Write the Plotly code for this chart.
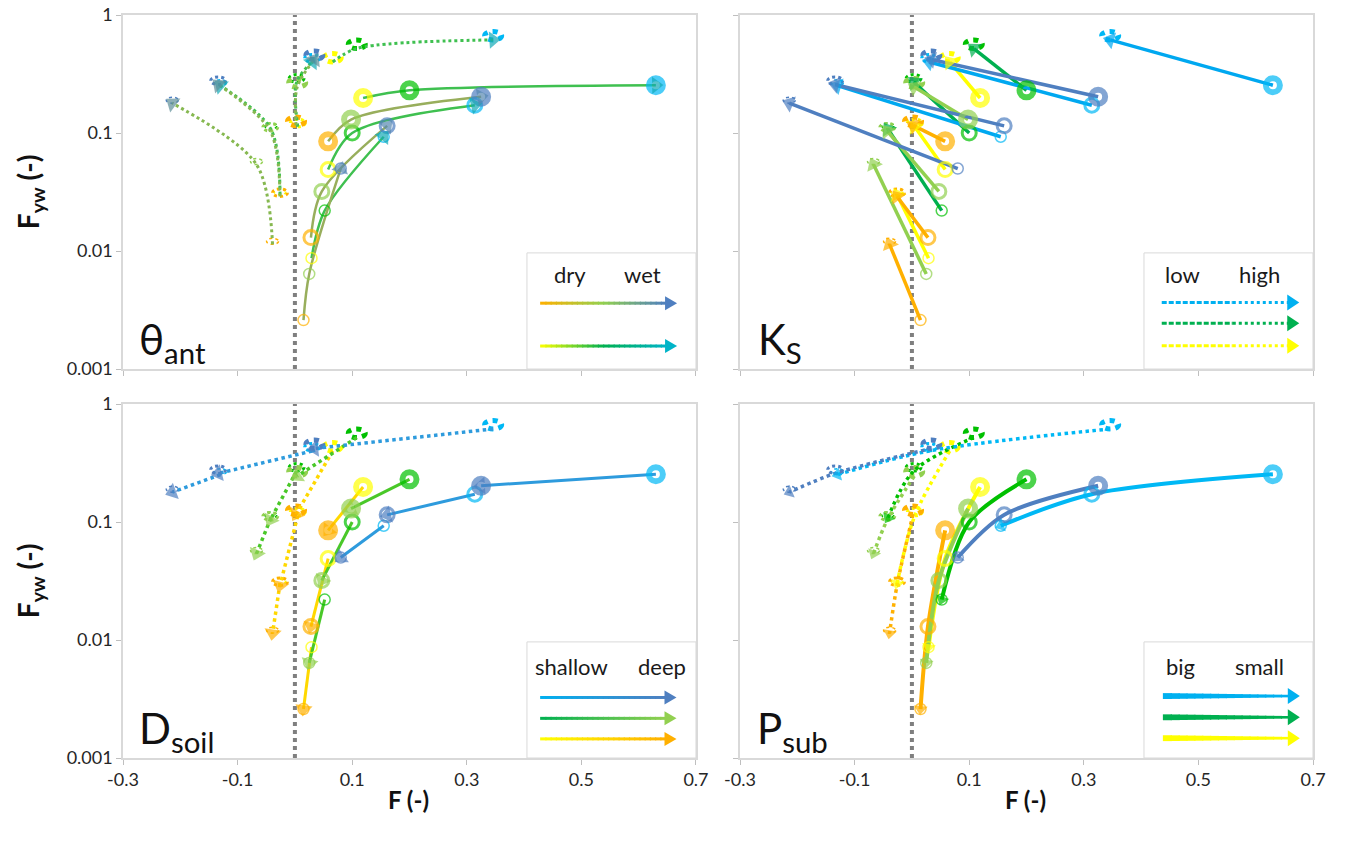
import plotly.graph_objects as go
from plotly.subplots import make_subplots

# ---------------- data ----------------
# rows: theta_ant dry, mid, wet ; columns: P_sub big, medium, small
F_lowKs_shallow    = [[0.119, 0.058, 0.029], [0.200, 0.100, 0.052], [0.630, 0.314, 0.155]]
Fyw_lowKs_shallow  = [[0.198, 0.049, 0.0087], [0.230, 0.100, 0.022], [0.254, 0.172, 0.093]]
F_lowKs_deep       = [[0.058, 0.028, 0.015], [0.098, 0.047, 0.025], [0.325, 0.161, 0.080]]
Fyw_lowKs_deep     = [[0.085, 0.013, 0.0026], [0.130, 0.032, 0.0064], [0.203, 0.115, 0.050]]
F_highKs_shallow   = [[0.066, 0.005, -0.026], [0.108, 0.003, -0.042], [0.346, 0.030, -0.130]]
Fyw_highKs_shallow = [[0.40, 0.113, 0.030], [0.52, 0.27, 0.108], [0.615, 0.40, 0.252]]
F_highKs_deep      = [[0.002, -0.026, -0.039], [0.004, -0.043, -0.067], [0.034, -0.134, -0.214]]
Fyw_highKs_deep    = [[0.116, 0.029, 0.0114], [0.245, 0.104, 0.054], [0.42, 0.258, 0.179]]

theta_levels = ["dry", "mid", "wet"]
dsoil_levels = ["shallow", "deep"]
psub_levels = ["big", "medium", "small"]
ks_levels = ["low", "high"]

x_tickvals = [-0.3, -0.1, 0.1, 0.3, 0.5, 0.7]
x_ticktext = ["-0.3", "-0.1", "0.1", "0.3", "0.5", "0.7"]
y_tickvals = [0.001, 0.01, 0.1, 1]
y_ticktext = ["0.001", "0.01", "0.1", "1"]

F_tab = {("low", "shallow"): F_lowKs_shallow, ("low", "deep"): F_lowKs_deep,
         ("high", "shallow"): F_highKs_shallow, ("high", "deep"): F_highKs_deep}
FYW_tab = {("low", "shallow"): Fyw_lowKs_shallow, ("low", "deep"): Fyw_lowKs_deep,
           ("high", "shallow"): Fyw_highKs_shallow, ("high", "deep"): Fyw_highKs_deep}


def pt(ks, d, t, p):
    return F_tab[(ks, d)][t][p], FYW_tab[(ks, d)][t][p]


# ---------------- styles ----------------
COL = {("shallow", 0): "#FFFF00", ("shallow", 1): "#00C000", ("shallow", 2): "#00B8F5",
       ("deep", 0): "#FFB000", ("deep", 1): "#92D050", ("deep", 2): "#4F7FC0"}
TEAL = "#12A9B6"
MSIZE = [14, 14, 11]
MLW = [6, 3, 1.5]
DOT_R = [8.5, 7.5, 6]
DOT_W = [5, 3, 1.5]
FONT = "Lato"


def blend(c1, c2, t=0.5):
    a = [int(c1[i:i + 2], 16) for i in (1, 3, 5)]
    b = [int(c2[i:i + 2], 16) for i in (1, 3, 5)]
    return "#%02x%02x%02x" % tuple(round(a[k] + (b[k] - a[k]) * t) for k in range(3))


def blend_stops(stops, t):
    n = len(stops) - 1
    i = min(int(t * n), n - 1)
    return blend(stops[i], stops[i + 1], t * n - i)


fig = make_subplots(rows=2, cols=2)
XD = [[0, 0.4815], [0.5185, 1]]
YD = [[0.5235, 1], [0, 0.4764]]
AX = {(1, 1): ("x", "y"), (1, 2): ("x2", "y2"), (2, 1): ("x3", "y3"), (2, 2): ("x4", "y4")}

heads = []


def add_line(rc, xs, ys, color, dash, width, head_color, head_size):
    r, c = rc
    fig.add_trace(go.Scatter(x=xs, y=ys, mode="lines",
                             line=dict(color=color, width=width, dash=dash,
                                       shape="spline" if len(xs) > 2 else "linear", smoothing=0.9),
                             hoverinfo="skip", showlegend=False), row=r, col=c)
    heads.append((r, c, xs[-2:], ys[-2:], head_color, head_size))


# --- theta_ant panel: dry -> mid -> wet
for ks in ks_levels:
    for d in dsoil_levels:
        for p in range(3):
            xs, ys = [], []
            for t in range(3):
                x, y = pt(ks, d, t, p)
                xs.append(x); ys.append(y)
            if d == "shallow":
                lc = "#3FC050"
                hc = TEAL
            else:
                lc = "#98AE5C" if ks == "low" else "#86B850"
                hc = "#5588B0" if ks == "low" else "#5E8E98"
            add_line((1, 1), xs, ys, lc, "solid" if ks == "low" else "dot",
                     2.5 if ks == "low" else 3, hc, 15)

# --- Ks panel: low -> high
for d in dsoil_levels:
    for t in range(3):
        for p in range(3):
            x0, y0 = pt("low", d, t, p)
            x1, y1 = pt("high", d, t, p)
            c = COL[(d, t)]
            if c == "#00C000":
                c = "#00B050"
            if c == "#00B8F5":
                c = "#00A8F0"
            add_line((1, 2), [x0, x1], [y0, y1], c, "solid", 3.5, c, 15)

# --- Dsoil panel: shallow -> deep
for ks in ks_levels:
    for t in range(3):
        for p in range(3):
            x0, y0 = pt(ks, "shallow", t, p)
            x1, y1 = pt(ks, "deep", t, p)
            c = blend(COL[("shallow", t)], COL[("deep", t)], 0.5)
            if t == 2:
                c = "#2E9BDD"
            add_line((2, 1), [x0, x1], [y0, y1], c, "solid" if ks == "low" else "dot",
                     3 if ks == "low" else 3.5, COL[("deep", t)], 15)

# --- Psub panel: big -> medium -> small
for ks in ks_levels:
    for d in dsoil_levels:
        for t in range(3):
            xs, ys = [], []
            for p in range(3):
                x, y = pt(ks, d, t, p)
                xs.append(x); ys.append(y)
            c = COL[(d, t)]
            add_line((2, 2), xs, ys, c, "solid" if ks == "low" else "dot",
                     4 if ks == "low" else 3.5, c, 12)

# --- circles (low Ks, solid open circles) in every panel
for rc in AX:
    xs, ys, cs, ss, ws = [], [], [], [], []
    for d in dsoil_levels:
        for t in range(3):
            for p in range(3):
                x, y = pt("low", d, t, p)
                xs.append(x); ys.append(y)
                cs.append(COL[(d, t)]); ss.append(MSIZE[p]); ws.append(MLW[p])
    fig.add_trace(go.Scatter(x=xs, y=ys, mode="markers",
                             marker=dict(symbol="circle-open", size=ss, color=cs, line=dict(width=ws)),
                             hoverinfo="skip", showlegend=False), row=rc[0], col=rc[1])

# --- arrow heads
for r, c, xs, ys, col, sz in heads:
    fig.add_trace(go.Scatter(x=xs, y=ys, mode="markers",
                             marker=dict(symbol="triangle-up", size=[0, sz], color=col,
                                         angleref="previous", line=dict(width=0)),
                             hoverinfo="skip", showlegend=False), row=r, col=c)

# --- dotted circles (high Ks) + vertical dotted line at F = 0
for rc, (xa, ya) in AX.items():
    for d in dsoil_levels:
        for t in range(3):
            for p in range(3):
                x, y = pt("high", d, t, p)
                r_ = DOT_R[p]
                fig.add_shape(type="circle", xref=xa, yref=ya, xsizemode="pixel", ysizemode="pixel",
                              xanchor=x, yanchor=y, x0=-r_, x1=r_, y0=-r_, y1=r_,
                              line=dict(color=COL[(d, t)], width=DOT_W[p], dash="dot"), layer="below")
    fig.add_shape(type="line", xref=xa, yref=ya + " domain", x0=0, x1=0, y0=0, y1=1,
                  line=dict(color="#7F7F7F", width=4, dash="dot"), layer="below")

# ---------------- axes ----------------
for (r, c), (xa, ya) in AX.items():
    fig.update_xaxes(row=r, col=c, domain=XD[c - 1], range=[-0.3, 0.7], tickvals=x_tickvals,
                     ticktext=x_ticktext, showticklabels=(r == 2), ticks="outside", ticklen=5,
                     tickcolor="#BFBFBF", showline=True, linecolor="#D9D9D9", linewidth=1.5,
                     mirror=True, showgrid=False, zeroline=False, automargin=False,
                     ticklabeloverflow="allow",
                     tickfont=dict(size=18, color="#262626", family=FONT))
    fig.update_yaxes(row=r, col=c, type="log", domain=YD[r - 1], range=[-3, 0], tickvals=y_tickvals,
                     ticktext=y_ticktext, showticklabels=(c == 1), ticks="outside", ticklen=5,
                     tickcolor="#BFBFBF", showline=True, linecolor="#D9D9D9", linewidth=1.5,
                     mirror=True, showgrid=False, zeroline=False, automargin=False,
                     ticklabeloverflow="allow",
                     tickfont=dict(size=18, color="#262626", family=FONT))

# ---------------- legends (decorative boxes) ----------------
PW, PH = 573, 354


def dom(a):
    return a + " domain"


def grad_line(xa, ya, x0, x1, y, stops, widths=(3, 3), n=24):
    for i in range(n):
        t0, t1 = i / n, (i + 1) / n
        col = blend_stops(stops, (t0 + t1) / 2)
        w = widths[0] + (widths[1] - widths[0]) * (t0 + t1) / 2
        fig.add_shape(type="line", xref=dom(xa), yref=dom(ya), x0=x0 + (x1 - x0) * t0,
                      x1=x0 + (x1 - x0) * t1 + 0.002, y0=y, y1=y, line=dict(color=col, width=w))


def head(xa, ya, xt, y, col, L=12, H=7):
    xb = xt - L / PW
    h = H / PH
    fig.add_shape(type="path", xref=dom(xa), yref=dom(ya),
                  path=f"M {xb},{y - h} L {xt},{y} L {xb},{y + h} Z", fillcolor=col, line=dict(width=0))


def box(xa, ya, t1, t2, x1t, x2t, yt):
    fig.add_shape(type="rect", xref=dom(xa), yref=dom(ya), x0=0.705, x1=1, y0=0, y1=0.328,
                  line=dict(color="#D9D9D9", width=1), fillcolor="white", layer="below")
    for txt, xx in ((t1, x1t), (t2, x2t)):
        fig.add_annotation(xref=dom(xa), yref=dom(ya), x=xx, y=yt, text=txt, showarrow=False,
                           xanchor="center", yanchor="middle",
                           font=dict(size=22, color="#1a1a1a", family=FONT))


LX0, LX1 = 0.728, 0.967
# theta_ant
box("x", "y", "dry", "wet", 0.78, 0.907, 0.266)
for yy, stops, hc in ((0.186, ["#FFB000", "#92D050", "#4F7FC0"], "#4F7FC0"),
                      (0.065, ["#FFFF00", "#00B050", "#00B4C8"], "#00B4C8")):
    grad_line("x", "y", LX0, LX1 - 11 / PW, yy, stops)
    head("x", "y", LX1, yy, hc)
# Ks
box("x2", "y2", "low", "high", 0.773, 0.907, 0.266)
for yy, col in ((0.188, "#00B0F0"), (0.129, "#00B050"), (0.066, "#FFFF00")):
    fig.add_shape(type="line", xref="x2 domain", yref="y2 domain", x0=0.736, x1=0.86, y0=yy, y1=yy,
                  line=dict(color=col, width=3, dash="5px,2px"))
    fig.add_shape(type="line", xref="x2 domain", yref="y2 domain", x0=0.86, x1=0.976 - 11 / PW,
                  y0=yy, y1=yy, line=dict(color=col, width=3, dash="dot"))
    head("x2", "y2", 0.976, yy, col, L=12, H=8)
# Dsoil
box("x3", "y3", "shallow", "deep", 0.783, 0.940, 0.258)
for yy, stops in ((0.171, ["#00B0F0", "#4F7FC0"]), (0.112, ["#00B050", "#92D050"]),
                  (0.054, ["#FFFF00", "#FFB000"])):
    grad_line("x3", "y3", LX0, 0.966 - 11 / PW, yy, stops)
    head("x3", "y3", 0.966, yy, stops[-1])
# Psub
box("x4", "y4", "big", "small", 0.769, 0.907, 0.258)
for yy, col in ((0.175, "#00B0F0"), (0.115, "#00B050"), (0.056, "#FFFF00")):
    grad_line("x4", "y4", 0.738, 0.977 - 11 / PW, yy, [col, col], widths=(6, 2.5), n=16)
    head("x4", "y4", 0.977, yy, col, L=12, H=8)

# ---------------- panel labels & axis titles ----------------
for (xa, ya), lab, xx in ((("x", "y"), "θ<sub>ant</sub>", 0.024), (("x2", "y2"), "K<sub>S</sub>", 0.028),
                          (("x3", "y3"), "D<sub>soil</sub>", 0.024), (("x4", "y4"), "P<sub>sub</sub>", 0.026)):
    fig.add_annotation(xref=dom(xa), yref=dom(ya), x=xx, y=0.075, xanchor="left", yanchor="middle",
                       text=lab, showarrow=False, font=dict(size=42, color="#111", family=FONT))

for yy in (0.7618, 0.2382):
    fig.add_annotation(xref="paper", yref="paper", x=-0.078, y=yy, textangle=-90,
                       xanchor="center", yanchor="middle",
                       text="<b>F<sub>yw</sub> (-)</b>", showarrow=False,
                       font=dict(size=28, color="#111", family=FONT))
for xx in (0.2395, 0.758):
    fig.add_annotation(xref="paper", yref="paper", x=xx, y=-0.0565, text="<b>F (-)</b>",
                       xanchor="center", yanchor="middle",
                       showarrow=False, font=dict(size=24, color="#111", family=FONT))

fig.update_layout(width=1346, height=846, margin=dict(l=123, r=33, t=15, b=88, autoexpand=False),
                  paper_bgcolor="white", plot_bgcolor="white", showlegend=False,
                  font=dict(family=FONT))

fig.write_html("out.html", config={"displayModeBar": False},
               post_script="document.body.style.margin='0';")
